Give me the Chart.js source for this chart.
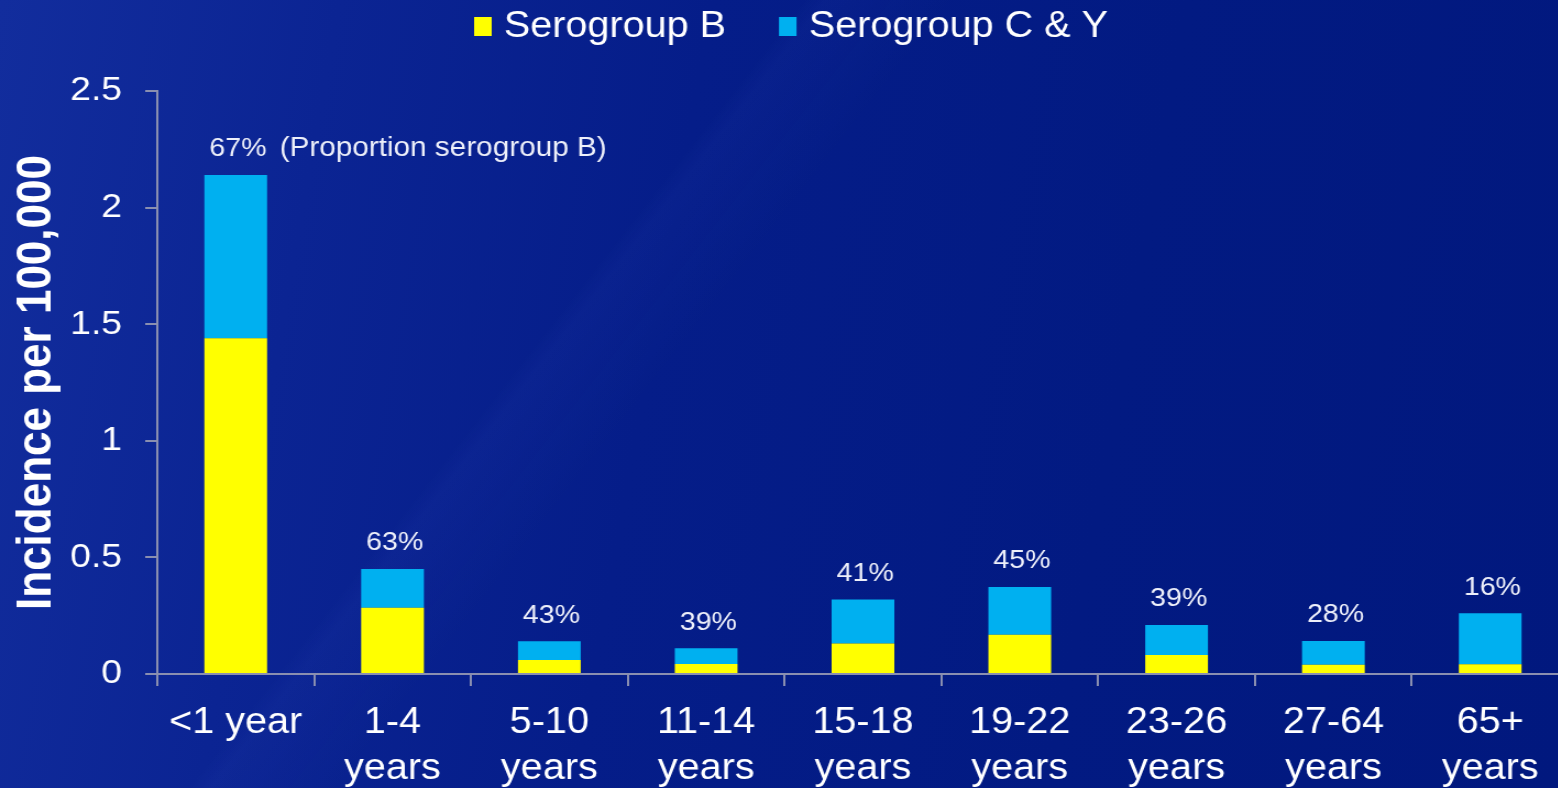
<!DOCTYPE html>
<html>
<head>
<meta charset="utf-8">
<title>Incidence by age group and serogroup</title>
<script src="https://cdn.jsdelivr.net/npm/chart.js@4"></script>
<style>
  html, body { margin: 0; padding: 0; width: 1558px; height: 788px; overflow: hidden; }
  body {
    background:
      linear-gradient(128deg, rgba(0,0,0,0) 0%, rgba(0,0,0,0) 37%, rgba(110,140,255,0.035) 38%, rgba(0,0,0,0) 44%),
      linear-gradient(100deg, #122d9d 0%, #0b2493 20%, #051d89 42%, #021a82 70%, #01187e 100%);
  }
  /* the slide art is a little wide, so the canvas gets stretched sideways */
  #wrap { position: absolute; left: 0; top: 0; width: 1426px; height: 788px;
          transform: scaleX(1.1); transform-origin: 0 0; }
</style>
</head>
<body>
<div id="wrap"><canvas id="chart" width="1426" height="788"></canvas></div>
<script>
// ── data ─────────────────────────────────────────────────────────────────────
const ageGroups = [
  '<1 year', ['1-4', 'years'], ['5-10', 'years'], ['11-14', 'years'],
  ['15-18', 'years'], ['19-22', 'years'], ['23-26', 'years'],
  ['27-64', 'years'], ['65+', 'years']
];
const serogroupB  = [1.44, 0.284, 0.060, 0.043, 0.131, 0.168, 0.082, 0.040, 0.042];
const serogroupCY = [0.70, 0.166, 0.080, 0.067, 0.189, 0.205, 0.128, 0.102, 0.218];
const proportionB = ['67%', '63%', '43%', '39%', '41%', '45%', '39%', '28%', '16%'];
const yTicks      = { min: 0, max: 2.5, step: 0.5 };

const FONT   = '"Liberation Sans", Arial, sans-serif';
const WHITE  = '#ffffff';
const AXIS   = '#8a8fb0';
const YELLOW = '#ffff00';
const CYAN   = '#00b0f0';

// legend row across the top, drawn from the dataset labels/colours
const legendRow = {
  id: 'legendRow',
  afterDraw(chart) {
    const ctx = chart.ctx;
    ctx.save();
    ctx.font = `36px ${FONT}`;
    ctx.textBaseline = 'middle';
    ctx.textAlign = 'left';
    let x = 431;
    const cy = 27;
    chart.data.datasets.forEach(ds => {
      ctx.fillStyle = ds.backgroundColor;
      ctx.fillRect(x, cy - 10, 16, 19);
      x += 16 + 11;
      ctx.fillStyle = WHITE;
      ctx.fillText(ds.label, x, cy);
      x += ctx.measureText(ds.label).width + 48;
    });
    ctx.restore();
  }
};

// proportion of serogroup B above each stack
const pctLabels = {
  id: 'pctLabels',
  afterDatasetsDraw(chart) {
    const ctx = chart.ctx;
    const top = chart.getDatasetMeta(chart.data.datasets.length - 1);
    ctx.save();
    ctx.fillStyle = '#eef0fa';
    ctx.textBaseline = 'middle';
    top.data.forEach((bar, i) => {
      const y = bar.y - 26;
      ctx.font = `26px ${FONT}`;
      ctx.textAlign = 'center';
      ctx.fillText(proportionB[i], bar.x + 2, y);
      if (i === 0) {
        const w = ctx.measureText(proportionB[i]).width;
        ctx.font = `27px ${FONT}`;
        ctx.textAlign = 'left';
        ctx.fillText('(Proportion serogroup B)', bar.x + 2 + w / 2 + 12, y);
      }
    });
    ctx.restore();
  }
};

new Chart(document.getElementById('chart').getContext('2d'), {
  type: 'bar',
  data: {
    labels: ageGroups,
    datasets: [
      { label: 'Serogroup B', data: serogroupB, backgroundColor: YELLOW,
        barPercentage: 0.4, categoryPercentage: 1 },
      { label: 'Serogroup C & Y', data: serogroupCY, backgroundColor: CYAN,
        barPercentage: 0.4, categoryPercentage: 1 }
    ]
  },
  options: {
    responsive: false,
    animation: false,
    layout: { padding: { top: 91, left: 0, right: 0, bottom: 0 } },
    plugins: { legend: { display: false }, tooltip: { enabled: false } },
    scales: {
      x: {
        stacked: true,
        afterFit: s => { s.height = 114; },
        border: { color: AXIS, width: 2 },
        grid: { drawOnChartArea: false, drawTicks: true, tickLength: 12, color: AXIS, lineWidth: 2 },
        ticks: {
          color: WHITE, padding: 14, maxRotation: 0, autoSkip: false,
          font: { family: FONT, size: 36, lineHeight: 1.28 }
        }
      },
      y: {
        stacked: true,
        min: yTicks.min, max: yTicks.max,
        afterFit: s => { s.width = 143; },
        border: { color: AXIS, width: 2 },
        grid: { drawOnChartArea: false, drawTicks: true, tickLength: 11, color: AXIS, lineWidth: 2 },
        ticks: {
          stepSize: yTicks.step, color: WHITE, padding: 21,
          font: { family: FONT, size: 34 },
          callback: v => String(v)
        },
        title: {
          display: true, text: 'Incidence per 100,000', color: WHITE,
          padding: { top: 12, bottom: 0 },
          font: { family: FONT, size: 44, weight: 'bold', lineHeight: 1 }
        }
      }
    }
  },
  plugins: [legendRow, pctLabels]
});
</script>
</body>
</html>
